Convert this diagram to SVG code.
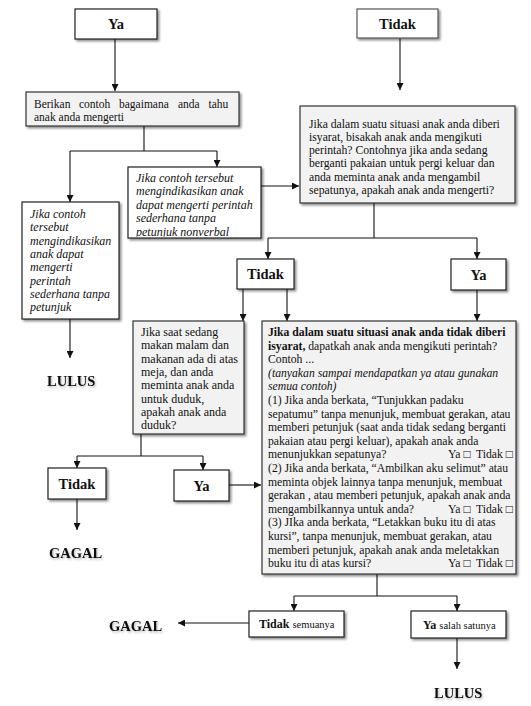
<svg xmlns="http://www.w3.org/2000/svg" width="531" height="706" viewBox="0 0 531 706">
  <style>
    .box { fill: #ffffff; stroke: #222; stroke-width: 1.2; filter: url(#shadow); }
    .gbox { fill: #f2f2f2; stroke: #333; stroke-width: 1.2; filter: url(#shadow); }
    .lbl { font-family: "Liberation Serif", "Times New Roman", serif; font-weight: bold; font-size: 14.5px; fill: #111; text-anchor: middle; }
    .end { font-family: "Liberation Serif", "Times New Roman", serif; font-weight: bold; font-size: 14.5px; fill: #111; filter: url(#soft); }
    .t { font-family: "Liberation Serif", "Times New Roman", serif; font-size: 11.5px; fill: #111; }
    .it { font-family: "Liberation Serif", "Times New Roman", serif; font-style: italic; font-size: 12px; fill: #111; }
    .big { font-family: "Liberation Serif", "Times New Roman", serif; font-size: 11.7px; fill: #111; }
    .mid { font-family: "Liberation Serif", "Times New Roman", serif; font-size: 12px; fill: #111; }
    .conn { fill: none; stroke: #111; stroke-width: 1.1; }
    .arr { marker-end: url(#head); }
  </style>
  <defs>
    <marker id="head" markerUnits="userSpaceOnUse" markerWidth="7" markerHeight="7" refX="7" refY="3.5" orient="auto">
      <path d="M0,0 L7,3.5 L0,7 z" fill="#111"/>
    </marker>
    <filter id="shadow" x="-10%" y="-10%" width="130%" height="130%">
      <feDropShadow dx="1.8" dy="1.8" stdDeviation="0.9" flood-color="#000" flood-opacity="0.45"/>
    </filter>
    <filter id="soft" x="-10%" y="-30%" width="130%" height="170%">
      <feDropShadow dx="1" dy="1.5" stdDeviation="1" flood-color="#000" flood-opacity="0.3"/>
    </filter>
    <!-- text frame of the right italic box, slightly inside its border -->
    <clipPath id="clipR">
      <rect x="128" y="167" width="133" height="69.5"/>
    </clipPath>
  </defs>

  <!-- connectors -->
  <g id="connectors">
    <path class="conn arr" d="M115,39 V91"/>
    <path class="conn arr" d="M400,38 V90"/>
    <path class="conn" d="M144,126 V151 M70,151 H217"/>
    <path class="conn arr" d="M70,151 V202"/>
    <path class="conn arr" d="M217,151 V167"/>
    <path class="conn arr" d="M261,186 H299"/>
    <path class="conn" d="M374,203 V238 M268,238 H477"/>
    <path class="conn arr" d="M268,238 V259"/>
    <path class="conn arr" d="M477,238 V259"/>
    <path class="conn arr" d="M243,289 V321"/>
    <path class="conn arr" d="M287,289 V321"/>
    <path class="conn arr" d="M477,290 V321"/>
    <path class="conn arr" d="M70,319 V358"/>
    <path class="conn" d="M141,434 V456 M77,456 H203"/>
    <path class="conn arr" d="M77,456 V468"/>
    <path class="conn arr" d="M203,456 V470"/>
    <path class="conn arr" d="M229,485 H261"/>
    <path class="conn arr" d="M77,499 V530"/>
    <path class="conn" d="M377,574 V596 M294,596 H457"/>
    <path class="conn arr" d="M294,596 V611"/>
    <path class="conn arr" d="M457,596 V611"/>
    <path class="conn arr" d="M249,623 H178"/>
    <path class="conn arr" d="M457,638 V669"/>
  </g>

  <g id="ya-top">
    <rect class="box" x="75" y="9" width="82" height="30"/>
    <text class="lbl" x="116" y="29">Ya</text>
  </g>

  <g id="tidak-top">
    <rect class="box" x="357" y="9" width="81" height="29" style="stroke:#555"/>
    <text class="lbl" x="397.5" y="29">Tidak</text>
  </g>

  <g id="berikan">
    <rect class="gbox" x="26" y="92" width="213" height="34"/>
    <text class="t" y="108">
      <tspan x="34">Berikan</tspan><tspan x="79">contoh</tspan><tspan x="119">bagaimana</tspan><tspan x="178">anda</tspan><tspan x="208.5">tahu</tspan>
    </text>
    <text class="t" x="34" y="120.5">anak anda mengerti</text>
  </g>

  <g id="contoh-left">
    <rect class="box" x="22" y="202" width="97" height="117"/>
    <text class="it">
      <tspan x="30" y="218">Jika contoh</tspan>
      <tspan x="30" y="231.3">tersebut</tspan>
      <tspan x="30" y="244.6">mengindikasikan</tspan>
      <tspan x="30" y="257.9">anak dapat</tspan>
      <tspan x="30" y="271.2">mengerti</tspan>
      <tspan x="30" y="284.5">perintah</tspan>
      <tspan x="30" y="297.8">sederhana tanpa</tspan>
      <tspan x="30" y="311.1">petunjuk</tspan>
    </text>
  </g>

  <g id="contoh-right">
    <rect class="box" x="128" y="167" width="133" height="71"/>
    <text class="it" clip-path="url(#clipR)">
      <tspan x="136" y="182">Jika contoh tersebut</tspan>
      <tspan x="136" y="195.3">mengindikasikan anak</tspan>
      <tspan x="136" y="208.6">dapat mengerti perintah</tspan>
      <tspan x="136" y="221.9">sederhana tanpa</tspan>
      <tspan x="136" y="235.5">petunjuk nonverbal</tspan>
    </text>
  </g>

  <g id="isyarat">
    <rect class="gbox" x="300" y="106" width="215" height="97"/>
    <text class="t" style="font-size:11.7px">
      <tspan x="309" y="127.5">Jika dalam suatu situasi anak anda diberi</tspan>
      <tspan x="309" y="140.8">isyarat, bisakah anak anda mengikuti</tspan>
      <tspan x="309" y="154.1">perintah? Contohnya jika anda sedang</tspan>
      <tspan x="309" y="167.4">berganti pakaian untuk pergi keluar dan</tspan>
      <tspan x="309" y="180.7">anda meminta anak anda mengambil</tspan>
      <tspan x="309" y="194">sepatunya, apakah anak anda mengerti?</tspan>
    </text>
  </g>

  <g id="tidak-mid">
    <rect class="box" x="237" y="259" width="57" height="30"/>
    <text class="lbl" x="265.5" y="279">Tidak</text>
  </g>

  <g id="ya-mid">
    <rect class="box" x="451" y="259" width="55" height="31"/>
    <text class="lbl" x="478.5" y="279.5">Ya</text>
  </g>

  <g id="lulus-left">
    <text class="end" x="47" y="386">LULUS</text>
  </g>

  <g id="makan">
    <rect class="gbox" x="133" y="321" width="111" height="113"/>
    <text class="mid">
      <tspan x="141" y="336">Jika saat sedang</tspan>
      <tspan x="141" y="349.3">makan malam dan</tspan>
      <tspan x="141" y="362.6">makanan ada di atas</tspan>
      <tspan x="141" y="375.9">meja, dan anda</tspan>
      <tspan x="141" y="389.2">meminta anak anda</tspan>
      <tspan x="141" y="402.5">untuk duduk,</tspan>
      <tspan x="141" y="415.8">apakah anak anda</tspan>
      <tspan x="141" y="429.1">duduk?</tspan>
    </text>
  </g>

  <g id="tanpa-isyarat">
    <rect class="gbox" x="262" y="321" width="254" height="253"/>
    <text class="big">
      <tspan x="268" y="336" font-weight="bold">Jika dalam suatu situasi anak anda tidak diberi</tspan>
      <tspan x="268" y="349.6"><tspan font-weight="bold">isyarat,</tspan> dapatkah anak anda mengikuti perintah?</tspan>
      <tspan x="268" y="363.2">Contoh ...</tspan>
      <tspan x="268" y="376.8" font-style="italic">(tanyakan sampai mendapatkan ya atau gunakan</tspan>
      <tspan x="268" y="390.4" font-style="italic">semua contoh)</tspan>
      <tspan x="268" y="404">(1) Jika anda berkata, “Tunjukkan padaku</tspan>
      <tspan x="268" y="417.6">sepatumu” tanpa menunjuk, membuat gerakan, atau</tspan>
      <tspan x="268" y="431.2">memberi petunjuk (saat anda tidak sedang berganti</tspan>
      <tspan x="268" y="444.8">pakaian atau pergi keluar), apakah anak anda</tspan>
      <tspan x="268" y="458.4">menunjukkan sepatunya?</tspan><tspan x="448">Ya □</tspan><tspan x="476">Tidak □</tspan>
      <tspan x="268" y="472">(2) Jika anda berkata, “Ambilkan aku selimut” atau</tspan>
      <tspan x="268" y="485.6">meminta objek lainnya tanpa menunjuk, membuat</tspan>
      <tspan x="268" y="499.2">gerakan , atau memberi petunjuk, apakah anak anda</tspan>
      <tspan x="268" y="512.8">mengambilkannya untuk anda?</tspan><tspan x="448">Ya □</tspan><tspan x="476">Tidak □</tspan>
      <tspan x="268" y="526.4">(3) JIka anda berkata, “Letakkan buku itu di atas</tspan>
      <tspan x="268" y="540">kursi”, tanpa menunjuk, membuat gerakan, atau</tspan>
      <tspan x="268" y="553.6">memberi petunjuk, apakah anak anda meletakkan</tspan>
      <tspan x="268" y="567.2">buku itu di atas kursi?</tspan><tspan x="448">Ya □</tspan><tspan x="476">Tidak □</tspan>
    </text>
  </g>

  <g id="tidak-low">
    <rect class="box" x="48" y="468" width="58" height="31"/>
    <text class="lbl" x="77" y="489">Tidak</text>
  </g>

  <g id="ya-low">
    <rect class="box" x="174" y="470" width="55" height="31"/>
    <text class="lbl" x="201.5" y="491">Ya</text>
  </g>

  <g id="gagal-left">
    <text class="end" x="49" y="558">GAGAL</text>
  </g>

  <g id="tidak-semua">
    <rect class="box" x="249" y="611" width="95" height="26"/>
    <text class="mid" x="259" y="628"><tspan font-weight="bold">Tidak</tspan> <tspan font-size="10.5px">semuanya</tspan></text>
  </g>

  <g id="ya-salah">
    <rect class="box" x="411" y="611" width="95" height="27"/>
    <text class="mid" x="423" y="628.5"><tspan font-weight="bold">Ya</tspan> <tspan font-size="10.5px">salah satunya</tspan></text>
  </g>

  <g id="gagal-bottom">
    <text class="end" x="109" y="631">GAGAL</text>
  </g>

  <g id="lulus-bottom">
    <text class="end" x="434" y="698">LULUS</text>
  </g>
</svg>
